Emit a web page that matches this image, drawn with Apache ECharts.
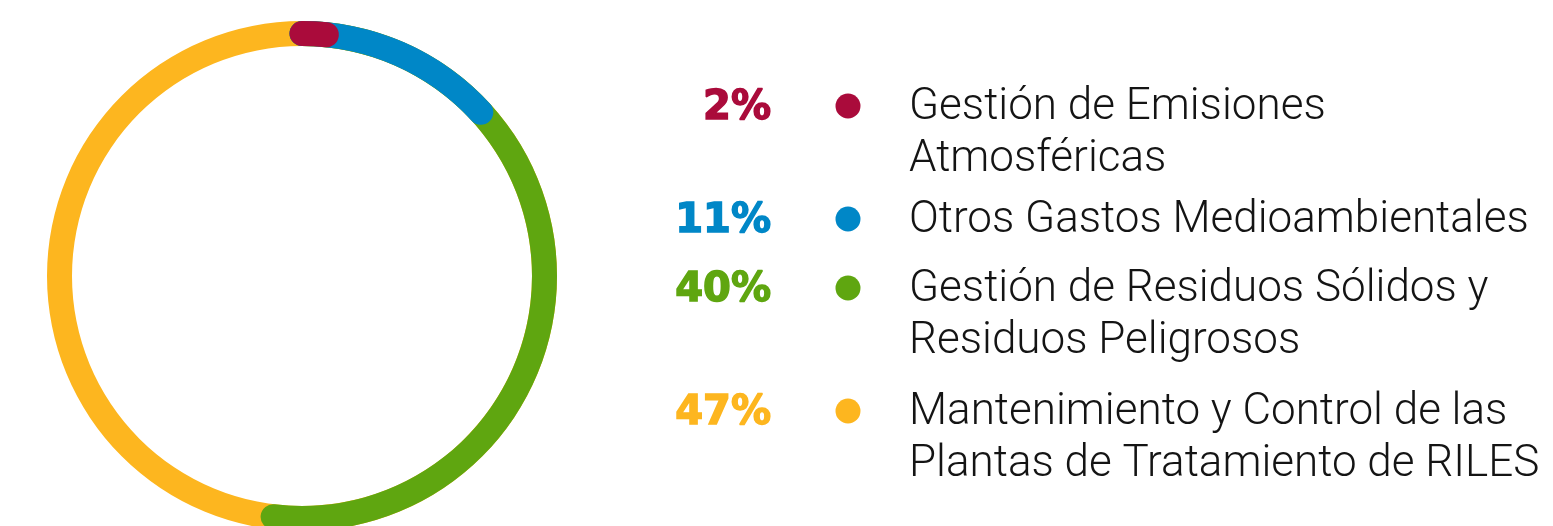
<!DOCTYPE html>
<html>
<head>
<meta charset="utf-8">
<script src="https://cdn.jsdelivr.net/npm/echarts@6/dist/echarts.min.js"></script>
<style>
  html, body { margin: 0; padding: 0; background: #fff; }
  #chart { width: 1553px; height: 526px; }
</style>
</head>
<body>
<div id="chart"></div>
<script>
// datos
const categorias = [
    'Gestión de Emisiones\nAtmosféricas',
    'Otros Gastos Medioambientales',
    'Gestión de Residuos Sólidos y\nResiduos Peligrosos',
    'Mantenimiento y Control de las\nPlantas de Tratamiento de RILES'
];
// etiquetas tal como aparecen en la leyenda
const etiquetas = ['2%', '11%', '40%', '47%'];
// largo de cada tramo leido del anillo (no coincide exacto con las etiquetas)
const tramosAnillo = [1.6, 11.6, 38.7, 48.1];

const colores = ['#AA0B3B', '#0087C7', '#5FA610', '#FDB61F'];
const filasY = [105, 218, 287, 410]; // centro de la primera linea de cada item

var dom = document.getElementById('chart');
var myChart = echarts.init(dom, null, { renderer: 'canvas' });

// acumulados: el ultimo tramo se dibuja primero, el primero queda arriba
let acumulado = 0;
const tramos = tramosAnillo.map(function (p, i) {
    acumulado += p;
    return {
        value: acumulado,
        name: categorias[i],
        itemStyle: { color: colores[i] }
    };
}).reverse();

const graficos = [];
categorias.forEach(function (nombre, i) {
    const y = filasY[i];
    graficos.push({
        type: 'text',
        x: 771,
        y: y + 4,
        style: {
            text: etiquetas[i],
            fill: colores[i],
            stroke: colores[i],
            lineWidth: 1.5,
            font: 'bold 40px "DejaVu Sans"',
            align: 'right',
            verticalAlign: 'middle'
        }
    });
    graficos.push({
        type: 'circle',
        shape: { cx: 848, cy: y + 1, r: 12.5 },
        style: { fill: colores[i] }
    });
    graficos.push({
        type: 'text',
        x: 909,
        y: y - 26 + 3,
        style: {
            text: nombre,
            fill: '#141414',
            font: '300 44px Roboto',
            lineHeight: 52,
            align: 'left',
            verticalAlign: 'top'
        }
    });
});

const option = {
    animation: false,
    series: [
        {
            type: 'gauge',
            center: [302, 276],
            radius: 255,
            startAngle: 90,
            endAngle: -270,
            clockwise: true,
            min: 0,
            max: 100,
            pointer: { show: false },
            axisLine: { show: false },
            axisTick: { show: false },
            splitLine: { show: false },
            axisLabel: { show: false },
            title: { show: false },
            detail: { show: false },
            progress: {
                show: true,
                overlap: true,
                roundCap: true,
                width: 25
            },
            data: tramos
        }
    ],
    graphic: graficos
};

myChart.setOption(option);
window.addEventListener('resize', myChart.resize);
</script>
</body>
</html>
